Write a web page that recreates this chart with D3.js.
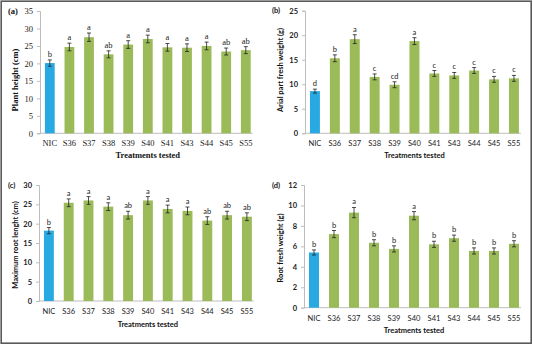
<!DOCTYPE html>
<html>
<head>
<meta charset="utf-8">
<script src="https://cdn.jsdelivr.net/npm/d3@7"></script>
<style>
  body { margin: 0; background: #fff; }
  svg { display: block; }
  .serif text { font-family: "Liberation Serif", "Times New Roman", Times, serif; }
  .sans text { font-family: Lato, "Open Sans", sans-serif; }
</style>
</head>
<body>
<div id="chart"></div>
<script>
/* four bar panels, treatments vs NIC control */

const width = 533, height = 346;

const treatments = ["NIC", "S36", "S37", "S38", "S39", "S40", "S41", "S43", "S44", "S45", "S55"];

// (a) plant height
const heightVals = [20.1, 24.7, 27.5, 22.6, 25.4, 27.0, 24.6, 24.5, 25.0, 23.4, 23.8];
const heightErr  = [0.9, 1.1, 1.2, 1.0, 1.1, 1.1, 1.1, 1.1, 1.1, 1.0, 1.0];
const heightLetters = ["b", "a", "a", "ab", "a", "a", "a", "a", "a", "ab", "ab"];
const heightTicks = [0, 5, 10, 15, 20, 25, 30, 35];

// (b) aerial part fresh weight
const aerialVals = [8.6, 15.3, 19.2, 11.5, 9.9, 18.8, 12.2, 11.8, 12.8, 11.0, 11.2];
const aerialErr  = [0.4, 0.7, 0.9, 0.6, 0.6, 0.7, 0.6, 0.6, 0.6, 0.6, 0.6];
const aerialLetters = ["d", "b", "a", "c", "cd", "a", "c", "c", "c", "c", "c"];
const aerialTicks = [0, 5, 10, 15, 20, 25];

// (c) maximum root length
const rootLenVals = [18.2, 25.4, 26.0, 24.4, 22.2, 26.0, 23.8, 23.3, 20.8, 22.2, 21.8];
const rootLenErr  = [0.8, 1.0, 1.0, 1.0, 1.0, 1.0, 1.0, 1.0, 1.0, 1.0, 1.0];
const rootLenLetters = ["b", "a", "a", "a", "ab", "a", "a", "a", "ab", "ab", "ab"];
const rootLenTicks = [0, 5, 10, 15, 20, 25, 30];

// (d) root fresh weight
const rootWtVals = [5.4, 7.2, 9.3, 6.35, 5.75, 9.0, 6.2, 6.8, 5.55, 5.55, 6.25];
const rootWtErr  = [0.25, 0.35, 0.5, 0.3, 0.3, 0.4, 0.3, 0.3, 0.3, 0.3, 0.3];
const rootWtLetters = ["b", "b", "a", "b", "b", "a", "b", "b", "b", "b", "b"];
const rootWtTicks = [0, 2, 4, 6, 8, 10, 12];

const blue = "#29a9e1", green = "#9bbb59";

const svg = d3.select("#chart")
  .append("svg")
  .attr("width", width)
  .attr("height", height);

svg.append("rect")
  .attr("x", 1.2).attr("y", 1.2)
  .attr("width", width - 3).attr("height", height - 4)
  .attr("fill", "none")
  .attr("stroke", "#5a5a5a")
  .attr("stroke-width", 1.6);

function panel(p) {
  const g = svg.append("g").attr("class", p.font);
  const isSerif = p.font === "serif";
  const fs = isSerif ? 8.5 : 7.5;
  const x = d3.scaleBand()
    .domain(treatments)
    .range([p.left, p.left + p.step * 11])
    .paddingInner(0.5)
    .paddingOuter(0.25);
  const y = d3.scaleLinear()
    .domain([0, d3.max(p.ticks)])
    .range([p.bottom, p.top]);

  // y axis
  const ya = g.append("g")
    .attr("transform", `translate(${p.left},0)`)
    .call(d3.axisLeft(y).tickValues(p.ticks).tickSize(3).tickPadding(4));
  ya.attr("font-family", null);
  ya.select(".domain").attr("stroke", "#bdbdbd");
  ya.selectAll(".tick line").attr("stroke", "#bdbdbd");
  ya.selectAll("text")
    .attr("font-size", fs)
    .attr("font-weight", isSerif ? "normal" : "bold")
    .attr("fill", "#222");

  // baseline
  g.append("line")
    .attr("x1", p.left).attr("x2", p.left + p.step * 11 - 3)
    .attr("y1", y(0)).attr("y2", y(0))
    .attr("stroke", "#bdbdbd");

  // x labels
  g.append("g").selectAll("text")
    .data(treatments)
    .join("text")
    .attr("x", d => x(d) + x.bandwidth() / 2)
    .attr("y", y(0) + 13)
    .attr("text-anchor", "middle")
    .attr("font-size", fs)
    .attr("fill", "#222")
    .text(d => d);

  const rows = treatments.map((t, i) => ({ t, v: p.vals[i], e: p.err[i], l: p.letters[i] }));

  g.append("g").selectAll("rect")
    .data(rows)
    .join("rect")
    .attr("x", d => x(d.t))
    .attr("y", d => y(d.v))
    .attr("width", x.bandwidth())
    .attr("height", d => y(0) - y(d.v))
    .attr("fill", (d, i) => i === 0 ? blue : green);

  // error bars
  const eb = g.append("g").attr("stroke", "#222").attr("stroke-width", 0.8);
  rows.forEach(d => {
    const cx = x(d.t) + x.bandwidth() / 2;
    eb.append("line").attr("x1", cx).attr("x2", cx).attr("y1", y(d.v - d.e)).attr("y2", y(d.v + d.e));
    eb.append("line").attr("x1", cx - 2).attr("x2", cx + 2).attr("y1", y(d.v - d.e)).attr("y2", y(d.v - d.e));
    eb.append("line").attr("x1", cx - 2).attr("x2", cx + 2).attr("y1", y(d.v + d.e)).attr("y2", y(d.v + d.e));
  });

  // significance letters
  g.append("g").selectAll("text")
    .data(rows)
    .join("text")
    .attr("x", d => x(d.t) + x.bandwidth() / 2)
    .attr("y", d => y(d.v + d.e) - 3)
    .attr("text-anchor", "middle")
    .attr("font-size", fs)
    .attr("fill", "#222")
    .text(d => d.l);

  // titles
  g.append("text")
    .attr("x", p.left + p.step * 5.5)
    .attr("y", p.titleY)
    .attr("text-anchor", "middle")
    .attr("font-weight", "bold")
    .attr("font-size", fs)
    .attr("fill", "#111")
    .text("Treatments tested");

  g.append("text")
    .attr("transform", `translate(${p.ylabX},${p.ylabY}) rotate(-90)`)
    .attr("text-anchor", "middle")
    .attr("font-weight", "bold")
    .attr("font-size", fs)
    .attr("fill", "#111")
    .text(p.ylabel);

  g.append("text")
    .attr("x", p.tagX)
    .attr("y", p.top + 2.5)
    .attr("font-weight", "bold")
    .attr("font-size", fs)
    .attr("fill", "#111")
    .text(p.tag);
}

panel({ tag: "(a)", tagX: 8, left: 40, step: 19.6, top: 11, bottom: 133.3, ticks: heightTicks,
  vals: heightVals, err: heightErr, letters: heightLetters, font: "serif",
  ylabel: "Plant height (cm)", ylabX: 18, ylabY: 80, titleY: 158 });

panel({ tag: "(b)", tagX: 272, left: 305, step: 19.9, top: 10.7, bottom: 133.3, ticks: aerialTicks,
  vals: aerialVals, err: aerialErr, letters: aerialLetters, font: "sans",
  ylabel: "Arial part fresh weight (g)", ylabX: 283, ylabY: 70, titleY: 158 });

panel({ tag: "(c)", tagX: 8, left: 39, step: 19.8, top: 185, bottom: 301, ticks: rootLenTicks,
  vals: rootLenVals, err: rootLenErr, letters: rootLenLetters, font: "sans",
  ylabel: "Maximum root lenght (cm)", ylabX: 18, ylabY: 245, titleY: 327 });

panel({ tag: "(d)", tagX: 272, left: 304, step: 20, top: 185, bottom: 307.7, ticks: rootWtTicks,
  vals: rootWtVals, err: rootWtErr, letters: rootWtLetters, font: "sans",
  ylabel: "Root fresh weight (g)", ylabX: 283, ylabY: 248, titleY: 333 });
</script>
</body>
</html>
